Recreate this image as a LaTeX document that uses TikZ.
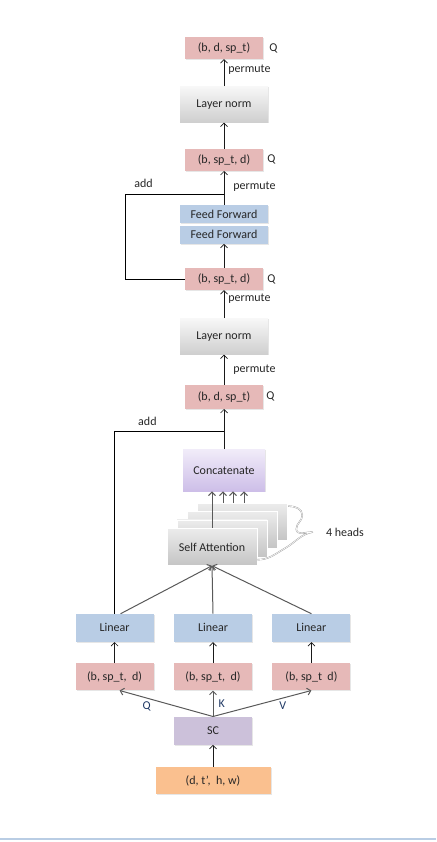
\documentclass[tikz,border=0pt]{standalone}
\usepackage{fontspec}
\setmainfont{Carlito}
\usetikzlibrary{arrows.meta,positioning,calc,shadows}
\definecolor{tensorpink}{RGB}{230,185,184}
\definecolor{linblue}{RGB}{185,205,229}
\definecolor{scpurple}{RGB}{204,193,218}
\definecolor{inorange}{RGB}{250,192,143}
\definecolor{catlight}{RGB}{241,236,249}
\definecolor{catdark}{RGB}{205,190,232}
\definecolor{qkvblue}{RGB}{31,56,100}
\definecolor{pageblue}{RGB}{185,205,228}
\definecolor{headlight}{RGB}{236,236,236}
\definecolor{headdark}{RGB}{196,196,196}

\begin{document}
\begin{tikzpicture}[font=\fontsize{12}{14}\selectfont,
base/.style={rectangle, minimum width=78pt, minimum height=22pt, inner sep=1pt, align=center, text=black!85, drop shadow={shadow xshift=1pt, shadow yshift=-1pt, opacity=0.2}},
tensor/.style={base, fill=tensorpink},
linear/.style={base, fill=linblue, minimum height=28pt},
ffbox/.style={base, fill=linblue, minimum width=88pt, minimum height=17.5pt},
normbox/.style={base, top color=gray!6, bottom color=gray!38, minimum width=88pt, minimum height=36pt},
catbox/.style={base, top color=catlight, bottom color=catdark, minimum width=82pt, minimum height=42pt},
headbox/.style={base, top color=headlight, bottom color=headdark, draw=white, line width=0.6pt, minimum width=90pt, minimum height=37pt},
scbox/.style={base, fill=scpurple, minimum height=28pt},
inbox/.style={base, fill=inorange, minimum width=115pt, minimum height=27pt},
arr/.style={-{Straight Barb[length=3.5pt,width=7pt]}, line width=0.7pt, black!90},
garr/.style={-{Straight Barb[length=3.5pt,width=7pt]}, line width=1pt, black!65},
brace/.style={draw=gray!80, double=white, double distance=0.6pt, line width=0.4pt},
lbl/.style={inner sep=1pt, text=black!85},
qkv/.style={inner sep=1pt, text=qkvblue}]

\useasboundingbox (0,0) rectangle (436pt,-842pt);

% upper chain
\node[tensor] (t1) at (224pt,-48pt) {(b, d, sp\_t)};
\node[normbox, below=27pt of t1] (ln1) {Layer norm};
\node[tensor, below=26pt of ln1] (t2) {(b, sp\_t, d)};
\node[ffbox, below=34pt of t2] (ff1) {Feed Forward};
\node[ffbox, below=3pt of ff1] (ff2) {Feed Forward};
\node[tensor, below=24pt of ff2] (t3) {(b, sp\_t, d)};
\node[normbox, below=28pt of t3] (ln2) {Layer norm};
\node[tensor, minimum height=24pt, below=30pt of ln2] (t4) {(b, d, sp\_t)};
\node[catbox, below=40pt of t4] (concat) {Concatenate};

\node[lbl, right=5pt of t1] (q1) {Q};
\node[lbl, right=3pt of t2] (q2) {Q};
\node[lbl, right=3pt of t3] (q3) {Q};
\node[lbl, right=2pt of t4] (q4) {Q};

% attention heads, back to front
\coordinate (sapos) at ([shift={(-12pt,-55.5pt)}]concat.south);
\node[headbox] (sa3) at ([shift={(30pt,25pt)}]sapos) {};
\node[headbox] (sa2) at ([shift={(20pt,17pt)}]sapos) {};
\node[headbox] (sa1) at ([shift={(10pt,8.5pt)}]sapos) {};
\node[headbox] (sa) at (sapos) {Self Attention};
\node[lbl] (heads) at (345pt,-532pt) {4 heads};
\coordinate (tip) at ([xshift=-12pt]heads.west);

% lower part
\node[linear, below=48pt of sa, xshift=1pt] (linM) {Linear};
\node[linear, left=20pt of linM] (linL) {Linear};
\node[linear, right=20pt of linM] (linR) {Linear};
\node[tensor, minimum height=27pt, below=21pt of linL] (tL) {(b, sp\_t,~~d)};
\node[tensor, minimum height=27pt, below=21pt of linM] (tM) {(b, sp\_t,~~d)};
\node[tensor, minimum height=27pt, below=21pt of linR] (tR) {(b, sp\_t~~d)};
\node[scbox, below=26pt of tM] (sc) {SC};
\node[inbox, below=22pt of sc] (in) {(d, t',~~h, w)};

% connectors
\draw[arr] (ln1) -- node[lbl, pos=0.6, right=3pt] {permute} (t1);
\draw[arr] (t2) -- (ln1);
\draw[arr] (ff1) -- node[lbl, pos=0.53, right=8pt] {permute} (t2);
\draw[arr] (t3) -- (ff2);
\draw[arr] (ln2) -- node[lbl, pos=0.71, right=3pt] {permute} (t3);
\draw[arr] (t4) -- node[lbl, pos=0.5, right=8pt] {permute} (ln2);
\draw[arr] (concat) -- (t4);

\coordinate (add1) at ($(ff1.north)!0.3!(t2.south)$);
\coordinate (add2) at ($(concat.north)!0.45!(t4.south)$);
\draw[line width=0.7pt] (t3.west) -- ++(-59pt,0) |- node[lbl, pos=0.59, above=6pt] {add} (add1);
\draw[line width=0.7pt] (linL.north) |- node[lbl, pos=0.65, above=4pt] {add} (add2);

\draw[garr] (sa.north) -- (sa.north |- concat.south);
\foreach \dx in {11,21,32}
  \draw[garr] ([xshift=\dx pt]sa.north |- sa3.north) -- ([xshift=\dx pt]sa.north |- concat.south);

\draw[brace] ([shift={(1pt,-3pt)}]sa3.north east)
  to[out=0,in=90] ([shift={(15pt,-12pt)}]sa3.north east)
  to[out=-90,in=90] ([shift={(9pt,-26pt)}]sa3.north east)
  to[out=-90,in=180] (tip)
  to[out=190,in=30] ([shift={(-2pt,-45pt)}]sa3.north east)
  to[out=210,in=0] ([yshift=6pt]sa.south east);

\draw[garr] ([xshift=6pt]linL.north) -- (sa.south);
\draw[garr] (linM.north) -- (sa.south);
\draw[garr] (linR.north) -- (sa.south);

\draw[arr] (tL) -- (linL);
\draw[arr] (tM) -- (linM);
\draw[arr] (tR) -- (linR);

\draw[garr] (sc.north) -- node[qkv, pos=0.71, below=2pt] {Q} ([xshift=5pt]tL.south);
\draw[garr] (sc.north) -- node[qkv, pos=0.5, right=4pt] {K} (tM.south);
\draw[garr] (sc.north) -- node[qkv, pos=0.71, below=2pt] {V} (tR.south);
\draw[arr] (in) -- (sc);

% page edge
\draw[line width=2pt, pageblue] (0,-839pt) -- (436pt,-839pt);
\end{tikzpicture}
\end{document}
